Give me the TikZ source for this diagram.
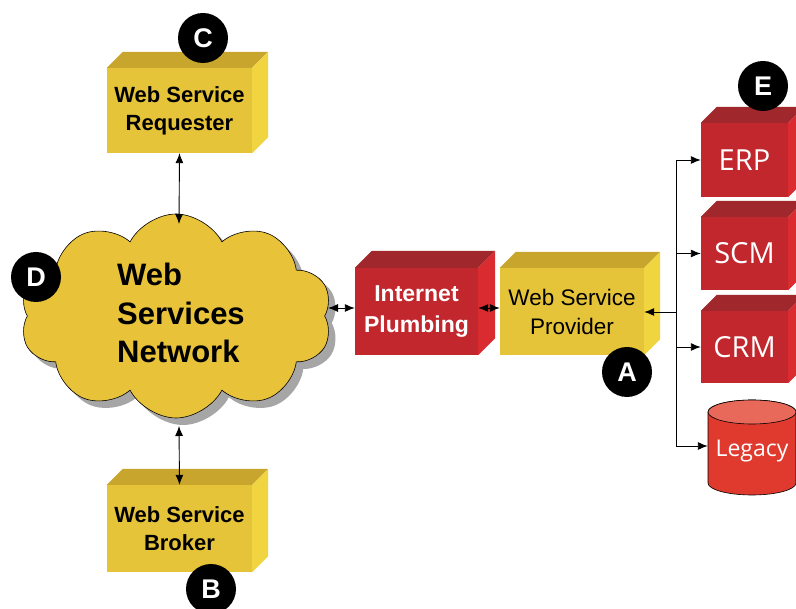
\documentclass[tikz,border=0pt]{standalone}
\usepackage{fontspec}
\setmainfont{Liberation Sans}
\newfontfamily\osans{Open Sans}
\usetikzlibrary{shapes.symbols,shapes.geometric,arrows.meta,shadows}
\definecolor{yfront}{HTML}{E6C43A}
\definecolor{ytop}{HTML}{C8A62E}
\definecolor{yside}{HTML}{F0D440}
\definecolor{rfront}{HTML}{C1272D}
\definecolor{rtop}{HTML}{A0282D}
\definecolor{rside}{HTML}{D92B30}
\definecolor{cyl}{HTML}{E03A2E}
\definecolor{cyltop}{HTML}{E8695A}
\definecolor{cloudy}{HTML}{E8C33A}
\newcommand\cubefaces[4]{%
  \fill[#2] (#1.north west) -- ++(#4,-#4) -- ([shift={(#4,-#4)}]#1.north east) -- (#1.north east) -- cycle;
  \fill[#3] (#1.north east) -- ++(#4,-#4) -- ([shift={(#4,-#4)}]#1.south east) -- (#1.south east) -- cycle;
}
\tikzset{
  ybox/.style={rectangle, fill=yfront, inner sep=0pt, align=center, text=black},
  rbox/.style={rectangle, fill=rfront, inner sep=0pt, align=center, text=white},
  badge/.style={circle, fill=black, text=white, minimum size=50pt, inner sep=0pt, font=\fontsize{27}{30}\selectfont\bfseries},
  arr/.style={-{Latex[length=10pt,width=8pt]}, line width=0.9pt},
  dbl/.style={{Latex[length=10pt,width=8pt]}-{Latex[length=10pt,width=8pt]}, line width=0.9pt},
  line/.style={line width=0.9pt}
}
\begin{document}
\begin{tikzpicture}[x=1pt,y=-1pt]
\useasboundingbox (0,0) rectangle (796,609);
\clip (0,0) rectangle (796,609);
\fill[white] (0,0) rectangle (796,609);

% cloud
\node[cloud, cloud puffs=10, cloud puff arc=125, aspect=1.55, fill=cloudy, draw=black, line width=0.6pt,
      minimum width=312pt, minimum height=204pt,
      drop shadow={shadow xshift=7pt, shadow yshift=-7pt, fill=black!35, opacity=1}] (net) at (176,316) {};
\node[anchor=west, align=left, inner sep=0pt, font=\fontsize{31}{38.5}\selectfont\bfseries] (nettext) at (117,313) {Web\\Services\\Network};
\coordinate (netTop) at (179,224);
\coordinate (netBot) at (179,426);
\coordinate (netR) at (328,308);

% yellow boxes
\node[ybox, minimum width=145pt, minimum height=85pt, font=\fontsize{22}{28}\selectfont\bfseries] (req) at (179.5,110.5) {Web Service\\Requester};
\cubefaces{req}{ytop}{yside}{16}
\node[ybox, minimum width=145pt, minimum height=87pt, font=\fontsize{22}{28}\selectfont\bfseries] (brk) at (179.5,528.5) {Web Service\\Broker};
\cubefaces{brk}{ytop}{yside}{16}
\node[ybox, minimum width=144pt, minimum height=87pt, font=\fontsize{22.5}{29}\selectfont] (prov) at (572,311.5) {Web Service\\Provider};
\cubefaces{prov}{ytop}{yside}{16}

% red boxes
\node[rbox, minimum width=123pt, minimum height=87pt, font=\fontsize{23}{31}\selectfont\bfseries] (plumb) at (416.5,311.5) {Internet\\Plumbing};
\cubefaces{plumb}{rtop}{rside}{17}
\node[rbox, minimum width=87pt, minimum height=74pt, font=\osans\fontsize{29}{32}\selectfont] (erp) at (744.5,160) {ERP};
\cubefaces{erp}{rtop}{rside}{16}
\node[rbox, minimum width=87pt, minimum height=73pt, font=\osans\fontsize{29}{32}\selectfont] (scm) at (744.5,253.5) {SCM};
\cubefaces{scm}{rtop}{rside}{16}
\node[rbox, minimum width=87pt, minimum height=72pt, font=\osans\fontsize{29}{32}\selectfont] (crm) at (744.5,347) {CRM};
\cubefaces{crm}{rtop}{rside}{16}

% legacy cylinder
\filldraw[fill=cyl, draw=black, line width=0.6pt] (708,412) -- (708,483)
  arc[start angle=180, end angle=0, x radius=44, y radius=12] -- (796,412)
  arc[start angle=0, end angle=-180, x radius=44, y radius=12] -- cycle;
\filldraw[fill=cyltop, draw=black, line width=0.6pt] (752,412) ellipse [x radius=44, y radius=12];
\node[minimum width=88pt, inner sep=0pt, text=white, font=\osans\fontsize{23}{26}\selectfont] (legacy) at (752,451) {Legacy};

% connectors
\draw[dbl] (req.south) -- (netTop);
\draw[dbl] (brk.north) -- (netBot);
\draw[dbl] (netR) -- (netR -| plumb.west);
\draw[dbl] ([yshift=3.5pt]plumb.east) -- ([yshift=3.5pt]prov.west);
\coordinate (busTop) at (676,160);
\coordinate (busBot) at (676,446);
\coordinate (busMid) at (676,312);
\draw[line] (busTop) -- (busBot);
\draw[arr] (busMid) -- (busMid -| prov.east);
\draw[arr] (busTop) -- (erp.west);
\draw[arr] (busTop |- scm.west) -- (scm.west);
\draw[arr] (busTop |- crm.west) -- (crm.west);
\draw[arr] (busBot) -- (busBot -| legacy.west);

% badges
\node[badge] (bC) at (203,38) {C};
\node[badge] (bA) at (627,372) {A};
\node[badge] (bB) at (211,589) {B};
\node[badge] (bD) at (36,277) {D};
\node[badge] (bE) at (763,86) {E};
\end{tikzpicture}
\end{document}
